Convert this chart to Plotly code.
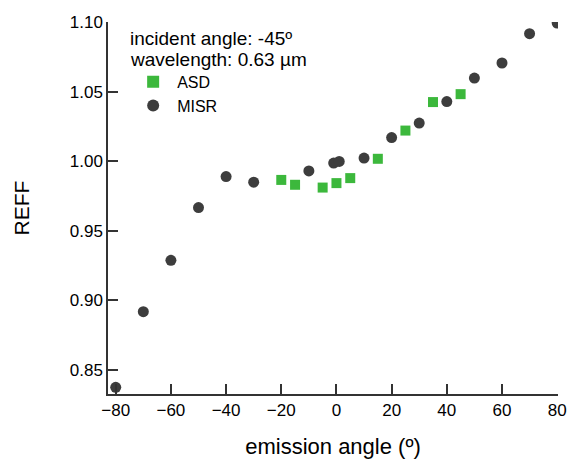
import plotly.graph_objects as go

# MISR data (circles)
misr_angle = [-80, -70, -60, -50, -40, -30, -10, -1, 1, 10, 20, 30, 40, 50, 60, 70, 80]
misr_reff = [0.8375, 0.8919, 0.9289, 0.9668, 0.9891, 0.9851, 0.9932, 0.9988, 1.0000,
             1.0024, 1.0172, 1.0276, 1.0431, 1.0600, 1.0708, 1.0919, 1.0995]

# ASD data (squares)
asd_angle = [-20, -15, -5, 0, 5, 15, 25, 35, 45]
asd_reff = [0.9867, 0.9832, 0.9812, 0.9844, 0.9880, 1.0019, 1.0222, 1.0427, 1.0484]

info_lines = ["incident angle: -45º", "wavelength: 0.63 µm"]

FONT = "Liberation Sans, Arial, sans-serif"
AXC = "#333333"

fig = go.Figure()
fig.add_trace(go.Scatter(
    x=asd_angle, y=asd_reff, mode="markers", name="ASD",
    marker=dict(symbol="square", size=10, color="#3cb83c", line=dict(width=0)),
))
fig.add_trace(go.Scatter(
    x=misr_angle, y=misr_reff, mode="markers", name="MISR",
    marker=dict(symbol="circle", size=11, color="#3d3d3d", line=dict(width=0)),
))

annos = []
for i, (line, yy) in enumerate(zip(info_lines, [0.956, 0.899])):
    annos.append(dict(
        text=line, xref="paper", yref="paper", x=0.044, y=yy,
        xanchor="left", yanchor="middle", align="left", showarrow=False,
        font=dict(family=FONT, size=19, color="black"),
    ))

fig.update_layout(
    width=567, height=459,
    margin=dict(l=108, r=9, t=22, b=65),
    paper_bgcolor="white", plot_bgcolor="white",
    font=dict(family=FONT, size=17, color="black"),
    showlegend=True,
    legend=dict(x=0.047, y=0.885, xanchor="left", yanchor="top",
                bgcolor="rgba(0,0,0,0)", borderwidth=0, itemwidth=38,
                font=dict(family=FONT, size=16, color="black"),
                tracegroupgap=0, itemsizing="constant"),
    xaxis=dict(
        range=[-82.8, 80.3], tickmode="linear", tick0=-80, dtick=20,
        showgrid=False, zeroline=False, showline=True, linecolor=AXC, linewidth=1.5,
        ticks="inside", ticklen=10, tickwidth=1.5, tickcolor=AXC,
        tickfont=dict(family=FONT, size=17, color="black"), automargin=False,
        title=dict(text="emission angle (º)", font=dict(family=FONT, size=22, color="black"), standoff=20),
    ),
    yaxis=dict(
        range=[0.8327, 1.1003], tickmode="linear", tick0=0.85, dtick=0.05, tickformat=".2f",
        showgrid=False, zeroline=False, showline=True, linecolor=AXC, linewidth=1.5,
        ticks="inside", ticklen=10, tickwidth=1.5, tickcolor=AXC,
        tickfont=dict(family=FONT, size=17, color="black"), automargin=False,
        title=dict(text="REFF", font=dict(family=FONT, size=21, color="black"), standoff=34),
    ),
    annotations=annos,
)

fig.write_html("out.html")
